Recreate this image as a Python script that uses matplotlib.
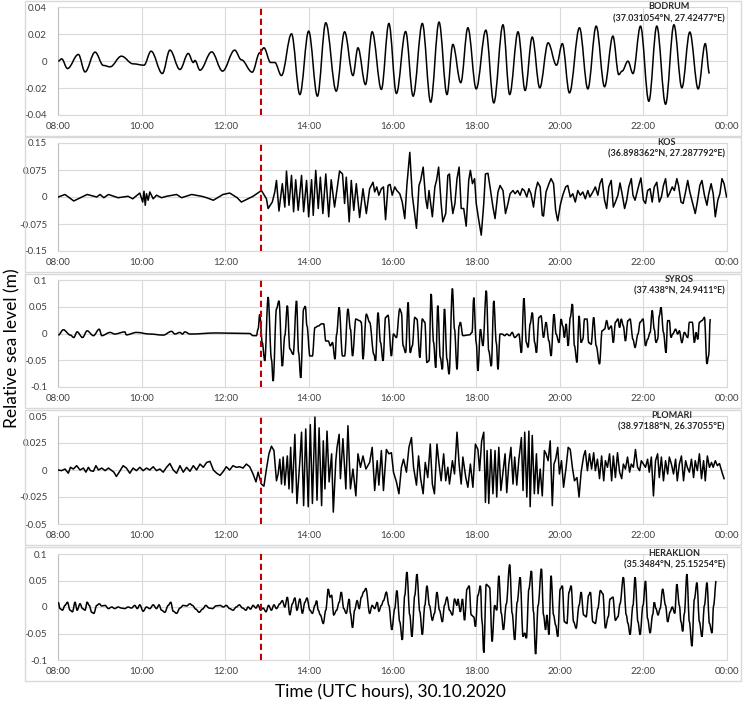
import matplotlib
matplotlib.use("Agg")
import matplotlib.pyplot as plt
from matplotlib.patches import Rectangle, PathPatch
from matplotlib.path import Path

plt.rcParams['font.family'] = ['Lato', 'DejaVu Sans']

# Data: (clock hour, relative sea level in m)
bodrum = [
    (8.00, 0.0), (8.08, 0.0017), (8.22, -0.0055), (8.48, 0.005), (8.64, -0.008), (8.88, 0.0067),
    (9.08, -0.0032), (9.24, -0.0042), (9.51, 0.0037), (9.79, -0.002), (10.05, -0.003), (10.22, 0.0074),
    (10.49, -0.0092), (10.67, 0.0082), (10.91, -0.0062), (11.11, 0.0057), (11.23, -0.001), (11.27, 0.0005),
    (11.39, -0.0067), (11.67, 0.0069), (11.93, -0.0074), (12.22, 0.0082), (12.38, 0.001), (12.64, -0.0082),
    (12.82, 0.0062), (12.92, 0.0099), (13.08, -0.001), (13.18, -0.001), (13.34, -0.0107), (13.58, 0.0203),
    (13.78, -0.0248), (13.99, 0.0223), (14.20, -0.026), (14.40, 0.0285), (14.65, -0.0223), (14.85, 0.0218),
    (15.05, -0.0107), (15.17, 0.0099), (15.35, -0.0174), (15.51, 0.0218), (15.73, -0.021), (15.91, 0.028),
    (16.09, -0.024), (16.31, 0.022), (16.49, -0.026), (16.71, 0.028), (16.91, -0.0305), (17.11, 0.029),
    (17.30, -0.0248), (17.44, 0.0124), (17.63, -0.016), (17.80, 0.0248), (18.00, -0.0206), (18.23, 0.023),
    (18.42, -0.031), (18.64, 0.027), (18.80, -0.0248), (19.00, 0.0218), (19.17, -0.0218), (19.34, 0.0179),
    (19.52, -0.0198), (19.72, 0.0136), (19.92, -0.003), (20.06, 0.013), (20.23, -0.0236), (20.47, 0.0248),
    (20.67, -0.0206), (20.87, 0.026), (21.07, -0.019), (21.27, 0.0186), (21.41, -0.01), (21.49, -0.0074),
    (21.63, 0.0), (21.75, -0.0092), (21.93, 0.026), (22.13, -0.0298), (22.32, 0.026), (22.53, -0.032),
    (22.73, 0.027), (22.92, -0.0198), (23.11, 0.0216), (23.31, -0.0206), (23.48, 0.013), (23.58, -0.0092),
]

kos = [
    (8.00, 0.0), (8.16, 0.007), (8.37, -0.011), (8.60, 0.002), (8.69, 0.007), (8.92, 0.0), (9.00, 0.007),
    (9.09, -0.002), (9.20, 0.007), (9.43, -0.002), (9.67, 0.002), (9.78, -0.005), (9.95, 0.011),
    (10.02, -0.014), (10.05, 0.016), (10.08, -0.023), (10.11, 0.009), (10.15, -0.009), (10.19, 0.014),
    (10.27, -0.005), (10.35, 0.005), (10.47, -0.002), (10.59, 0.002), (10.83, 0.007), (10.95, -0.002),
    (11.19, 0.007), (11.43, 0.002), (11.55, -0.002), (11.71, -0.009), (11.94, 0.007), (12.10, 0.011),
    (12.28, -0.002), (12.38, -0.014), (12.66, 0.002), (12.86, 0.018), (12.98, -0.005), (13.02, -0.032),
    (13.12, -0.014), (13.18, 0.014), (13.22, 0.046), (13.28, -0.039), (13.36, 0.037), (13.42, -0.028),
    (13.46, 0.072), (13.52, -0.023), (13.58, 0.060), (13.63, -0.041), (13.68, 0.048), (13.74, -0.037),
    (13.82, 0.060), (13.87, -0.041), (13.94, 0.046), (13.99, -0.055), (14.06, 0.048), (14.10, -0.051),
    (14.16, 0.074), (14.22, -0.032), (14.27, 0.055), (14.33, -0.046), (14.40, 0.064), (14.47, -0.055),
    (14.53, 0.048), (14.61, -0.028), (14.73, 0.072), (14.80, 0.064), (14.85, -0.018), (14.89, 0.055),
    (14.96, -0.069), (15.01, 0.046), (15.07, -0.037), (15.13, 0.037), (15.21, -0.057), (15.29, 0.023),
    (15.37, -0.046), (15.45, 0.023), (15.53, 0.041), (15.57, 0.014), (15.62, 0.028), (15.67, 0.005),
    (15.73, 0.023), (15.78, 0.028), (15.83, -0.063), (15.89, 0.032), (15.94, 0.035), (15.99, 0.005),
    (16.05, 0.028), (16.10, 0.018), (16.17, 0.009), (16.23, -0.014), (16.29, -0.060), (16.34, 0.032),
    (16.41, 0.124), (16.47, 0.005), (16.51, -0.032), (16.57, -0.087), (16.63, 0.032), (16.67, 0.046),
    (16.73, 0.083), (16.79, -0.005), (16.83, -0.032), (16.87, 0.018), (16.90, -0.009), (16.95, -0.055),
    (17.01, 0.028), (17.05, 0.046), (17.10, 0.083), (17.16, -0.018), (17.20, -0.069), (17.27, -0.046),
    (17.32, 0.060), (17.36, 0.064), (17.40, -0.005), (17.44, -0.046), (17.49, -0.018), (17.54, 0.051),
    (17.59, 0.083), (17.64, -0.032), (17.70, -0.032), (17.76, -0.081), (17.82, 0.046), (17.86, 0.074),
    (17.91, 0.037), (17.96, 0.051), (18.00, -0.018), (18.06, -0.064), (18.12, -0.106), (18.18, -0.018),
    (18.22, 0.064), (18.28, 0.066), (18.33, 0.028), (18.40, -0.028), (18.45, -0.060), (18.52, 0.014),
    (18.57, 0.032), (18.64, 0.018), (18.70, -0.046), (18.76, -0.018), (18.81, 0.009), (18.88, 0.018),
    (18.93, 0.009), (18.99, 0.018), (19.05, 0.005), (19.10, 0.023), (19.15, 0.018), (19.21, 0.0),
    (19.26, 0.023), (19.31, 0.009), (19.37, -0.028), (19.42, 0.018), (19.47, 0.041), (19.53, 0.028),
    (19.58, -0.051), (19.61, -0.053), (19.67, 0.014), (19.74, 0.037), (19.79, 0.051), (19.85, 0.037),
    (19.90, -0.037), (19.95, -0.066), (20.01, -0.023), (20.07, 0.005), (20.14, 0.028), (20.19, 0.032),
    (20.25, 0.0), (20.31, 0.009), (20.37, -0.014), (20.43, 0.018), (20.49, 0.005), (20.55, 0.014),
    (20.61, -0.005), (20.67, 0.018), (20.72, 0.0), (20.79, 0.014), (20.85, 0.028), (20.91, 0.005),
    (20.96, 0.037), (21.01, 0.051), (21.07, -0.009), (21.12, -0.032), (21.17, 0.028), (21.23, 0.046),
    (21.28, -0.028), (21.33, -0.014), (21.39, 0.005), (21.44, 0.039), (21.49, 0.009), (21.55, -0.032),
    (21.60, -0.009), (21.65, 0.028), (21.71, 0.051), (21.75, 0.005), (21.80, -0.009), (21.85, 0.014),
    (21.90, 0.037), (21.94, 0.053), (22.00, -0.009), (22.05, -0.018), (22.10, 0.018), (22.16, 0.023),
    (22.21, -0.014), (22.26, 0.028), (22.32, 0.041), (22.38, -0.014), (22.43, 0.0), (22.48, 0.032),
    (22.53, 0.051), (22.58, 0.0), (22.62, 0.009), (22.69, 0.028), (22.74, 0.018), (22.80, 0.051),
    (22.84, 0.032), (22.90, -0.014), (22.95, -0.018), (23.00, 0.009), (23.06, 0.046), (23.11, 0.014),
    (23.18, -0.018), (23.24, -0.046), (23.29, -0.014), (23.35, 0.032), (23.40, 0.046), (23.46, 0.005),
    (23.52, -0.023), (23.56, 0.007), (23.62, 0.037), (23.67, 0.009), (23.72, -0.055), (23.78, -0.009),
    (23.83, 0.009), (23.88, 0.051), (23.93, 0.037), (23.99, 0.0),
]

syros = [
    (8.00, -0.003), (8.12, 0.007), (8.29, -0.003), (8.37, -0.0075), (8.45, 0.003), (8.58, -0.0075),
    (8.69, 0.005), (8.84, -0.004), (8.98, 0.008), (9.04, -0.004), (9.24, 0.002), (9.35, -0.001),
    (9.59, 0.003), (9.63, -0.0025), (9.87, 0.002), (10.19, -0.001), (10.51, -0.003), (10.71, 0.004),
    (10.79, -0.001), (10.91, 0.002), (10.97, -0.001), (11.03, 0.003), (11.15, -0.001), (11.79, 0.001),
    (12.58, 0.0), (12.66, -0.004), (12.74, -0.004), (12.78, 0.008), (12.82, 0.036), (12.88, -0.017),
    (12.94, -0.051), (13.02, 0.068), (13.10, -0.048), (13.14, -0.089), (13.22, 0.046), (13.28, 0.061),
    (13.36, -0.061), (13.42, -0.004), (13.48, 0.052), (13.54, -0.029), (13.62, -0.039), (13.70, 0.061),
    (13.75, -0.036), (13.80, -0.083), (13.87, 0.046), (13.91, 0.051), (13.95, 0.014), (14.02, -0.042),
    (14.08, -0.042), (14.14, 0.011), (14.22, 0.014), (14.30, 0.018), (14.35, 0.018), (14.40, -0.014),
    (14.46, -0.014), (14.51, -0.023), (14.56, -0.017), (14.62, -0.048), (14.66, -0.001), (14.72, 0.049),
    (14.80, -0.042), (14.85, -0.042), (14.93, 0.046), (14.99, 0.008), (15.04, -0.042), (15.12, 0.027),
    (15.21, 0.024), (15.25, 0.021), (15.29, -0.048), (15.37, 0.036), (15.45, 0.021), (15.55, -0.039),
    (15.59, -0.051), (15.65, 0.039), (15.71, -0.017), (15.77, -0.051), (15.83, 0.030), (15.89, 0.034),
    (15.97, -0.042), (16.02, -0.001), (16.09, -0.0075), (16.17, 0.046), (16.21, 0.039), (16.25, -0.023),
    (16.31, -0.036), (16.37, 0.058), (16.42, -0.036), (16.47, -0.023), (16.53, 0.030), (16.58, 0.027),
    (16.65, -0.045), (16.71, 0.027), (16.77, 0.021), (16.82, -0.054), (16.87, -0.051), (16.92, 0.074),
    (16.98, -0.017), (17.03, -0.064), (17.08, 0.052), (17.14, -0.045), (17.19, -0.067), (17.24, 0.046),
    (17.30, -0.048), (17.35, -0.076), (17.43, 0.084), (17.48, 0.008), (17.54, -0.067), (17.59, 0.014),
    (17.62, 0.021), (17.68, -0.004), (17.84, -0.0025), (17.90, 0.002), (17.94, 0.067), (18.00, -0.017),
    (18.04, -0.070), (18.10, 0.008), (18.16, -0.023), (18.24, 0.080), (18.30, -0.0325), (18.36, -0.061),
    (18.42, 0.061), (18.48, -0.017), (18.52, -0.067), (18.57, -0.001), (18.62, -0.001), (18.68, -0.004),
    (18.73, -0.001), (18.80, -0.004), (18.86, 0.002), (18.92, -0.0075), (19.02, -0.001), (19.08, -0.036),
    (19.14, 0.066), (19.20, -0.017), (19.24, -0.026), (19.29, 0.018), (19.34, 0.039), (19.40, -0.017),
    (19.44, -0.036), (19.50, 0.030), (19.55, 0.033), (19.61, -0.0075), (19.67, 0.021), (19.74, -0.014),
    (19.79, -0.042), (19.86, 0.036), (19.91, -0.001), (19.98, -0.017), (20.03, 0.027), (20.07, 0.014),
    (20.11, -0.0075), (20.15, 0.018), (20.20, -0.023), (20.25, 0.030), (20.30, 0.055), (20.35, -0.023),
    (20.41, -0.054), (20.46, 0.033), (20.51, -0.017), (20.55, -0.011), (20.59, 0.027), (20.65, 0.027),
    (20.69, -0.017), (20.75, -0.020), (20.81, 0.030), (20.87, -0.023), (20.95, -0.057), (21.01, 0.005),
    (21.07, 0.008), (21.12, 0.024), (21.17, 0.008), (21.23, 0.014), (21.28, -0.017), (21.33, 0.021),
    (21.39, 0.027), (21.43, 0.011), (21.47, 0.027), (21.52, 0.014), (21.57, -0.014), (21.63, 0.024),
    (21.68, 0.027), (21.75, -0.011), (21.80, -0.026), (21.87, -0.001), (21.92, 0.021), (21.99, 0.027),
    (22.05, -0.023), (22.10, -0.011), (22.16, 0.002), (22.21, 0.043), (22.26, 0.008), (22.30, -0.017),
    (22.34, -0.011), (22.38, 0.033), (22.42, 0.049), (22.48, 0.002), (22.54, -0.036), (22.58, 0.024),
    (22.62, 0.024), (22.66, -0.0075), (22.70, -0.001), (22.77, 0.008), (22.82, -0.001), (22.86, 0.005),
    (22.92, -0.017), (22.98, 0.002), (23.06, -0.0075), (23.10, 0.021), (23.17, 0.021), (23.22, -0.017),
    (23.26, 0.002), (23.30, -0.011), (23.34, 0.021), (23.40, 0.024), (23.46, 0.030), (23.52, -0.057),
    (23.56, -0.042), (23.60, 0.027),
]

plomari = [
    (8.00, 0.0), (8.08, -0.0006), (8.16, 0.0009), (8.24, -0.003), (8.29, 0.0025), (8.36, 0.0009),
    (8.44, 0.004), (8.52, 0.0), (8.60, 0.0018), (8.66, -0.002), (8.72, 0.0025), (8.77, -0.0006),
    (8.84, -0.0012), (8.90, 0.004), (8.96, 0.0), (9.04, 0.0018), (9.12, -0.0006), (9.20, 0.0018),
    (9.28, -0.0006), (9.33, -0.002), (9.39, -0.006), (9.47, -0.0012), (9.55, 0.004), (9.63, 0.0018),
    (9.71, -0.003), (9.79, 0.0018), (9.87, -0.0006), (9.95, 0.0025), (10.03, -0.0006), (10.11, 0.0018),
    (10.19, 0.0), (10.27, 0.003), (10.35, -0.0006), (10.43, 0.0009), (10.51, -0.002), (10.59, 0.0025),
    (10.67, 0.006), (10.75, 0.0), (10.83, -0.003), (10.91, 0.004), (10.99, -0.002), (11.07, 0.0025),
    (11.15, -0.0012), (11.23, 0.004), (11.31, 0.0), (11.39, 0.0055), (11.47, 0.0025), (11.55, 0.007),
    (11.63, 0.008), (11.71, 0.0), (11.79, -0.003), (11.87, -0.005), (11.95, -0.0012), (12.02, 0.003),
    (12.10, 0.0), (12.18, 0.004), (12.26, 0.0025), (12.34, 0.003), (12.42, 0.0018), (12.50, 0.0055),
    (12.58, 0.003), (12.66, -0.0037), (12.73, -0.011), (12.78, -0.002), (12.86, -0.013), (12.92, -0.015),
    (12.98, 0.0009), (13.04, 0.015), (13.10, 0.022), (13.16, 0.018), (13.22, -0.010), (13.26, -0.0037),
    (13.30, 0.010), (13.34, -0.013), (13.38, 0.012), (13.42, -0.014), (13.48, 0.013), (13.52, -0.0175),
    (13.56, 0.021), (13.60, -0.021), (13.66, 0.033), (13.71, -0.031), (13.78, 0.0086), (13.82, 0.035),
    (13.87, -0.033), (13.92, 0.038), (13.98, -0.034), (14.03, 0.042), (14.08, -0.031), (14.14, 0.049),
    (14.19, -0.028), (14.24, 0.039), (14.30, -0.033), (14.34, 0.027), (14.38, -0.0175), (14.43, 0.036),
    (14.48, -0.011), (14.54, 0.015), (14.58, -0.039), (14.64, 0.0086), (14.67, 0.021), (14.72, 0.033),
    (14.75, -0.008), (14.81, 0.029), (14.88, -0.0175), (14.93, 0.041), (14.99, -0.0175), (15.05, 0.0009),
    (15.12, -0.024), (15.17, 0.015), (15.23, 0.0025), (15.29, 0.013), (15.36, 0.0009),
    (15.45, 0.007), (15.51, 0.021), (15.57, -0.019), (15.63, 0.0086), (15.67, -0.014), (15.73, 0.018),
    (15.78, -0.019), (15.85, 0.019), (15.91, 0.015), (15.97, 0.016), (16.02, -0.002), (16.09, -0.011),
    (16.15, -0.022), (16.21, 0.0025), (16.26, 0.010), (16.33, -0.002), (16.39, 0.021), (16.45, 0.030),
    (16.50, 0.0025), (16.57, -0.014), (16.62, 0.013), (16.67, -0.008), (16.73, -0.022), (16.78, 0.007),
    (16.84, -0.007), (16.90, 0.024), (16.95, -0.013), (17.00, -0.022), (17.06, 0.024), (17.11, 0.0055),
    (17.16, -0.010), (17.22, 0.015), (17.27, -0.010), (17.32, 0.0025), (17.36, -0.013), (17.43, 0.0086),
    (17.48, -0.0037), (17.54, 0.035), (17.59, 0.0055), (17.64, -0.013), (17.68, 0.012), (17.75, -0.007),
    (17.80, -0.016), (17.86, 0.0055), (17.92, -0.016), (17.98, 0.024), (18.04, 0.019), (18.08, -0.0006),
    (18.13, 0.027), (18.18, 0.035), (18.22, -0.030), (18.26, 0.018), (18.30, -0.031), (18.35, 0.019),
    (18.40, -0.022), (18.45, 0.018), (18.49, -0.025), (18.54, 0.021), (18.59, -0.019), (18.64, -0.002),
    (18.69, 0.015), (18.73, -0.021), (18.78, 0.0055), (18.83, 0.021), (18.88, -0.013), (18.92, 0.012),
    (18.97, -0.014), (19.02, 0.010), (19.08, 0.030), (19.12, -0.019), (19.16, 0.035), (19.21, -0.025),
    (19.26, 0.036), (19.29, -0.034), (19.34, 0.032), (19.39, -0.022), (19.44, 0.015), (19.48, -0.022),
    (19.53, 0.0009), (19.58, -0.024), (19.63, 0.018), (19.67, 0.015), (19.72, 0.0086), (19.77, 0.027),
    (19.82, -0.033), (19.86, 0.0055), (19.90, 0.010), (19.95, 0.021), (19.99, -0.0037), (20.04, 0.0086),
    (20.09, -0.016), (20.15, 0.0025), (20.20, 0.021), (20.25, 0.019), (20.30, 0.0025), (20.35, -0.010),
    (20.41, -0.007), (20.46, -0.025), (20.51, -0.002), (20.57, 0.013), (20.61, 0.018), (20.66, -0.0006),
    (20.71, 0.015), (20.76, 0.0009), (20.81, 0.016), (20.85, -0.0006), (20.90, 0.010), (20.95, -0.008),
    (21.00, 0.013), (21.05, -0.010), (21.09, 0.0086), (21.14, 0.0025), (21.19, 0.015), (21.24, -0.010),
    (21.28, 0.013), (21.33, -0.007), (21.38, 0.016), (21.43, -0.002), (21.48, -0.008), (21.52, 0.0055),
    (21.57, 0.0009), (21.62, 0.012), (21.67, -0.002), (21.71, 0.0055), (21.76, 0.0025), (21.81, 0.019),
    (21.86, 0.0025), (21.91, -0.0006), (21.95, 0.0086), (22.00, 0.0055), (22.05, 0.0025), (22.10, 0.010),
    (22.14, -0.002), (22.19, 0.012), (22.24, -0.024), (22.29, 0.0086), (22.34, 0.015), (22.38, -0.007),
    (22.43, 0.012), (22.48, -0.010), (22.53, 0.0086), (22.58, -0.0037), (22.62, 0.012), (22.67, 0.0055),
    (22.72, -0.0037), (22.77, 0.010), (22.81, -0.010), (22.86, 0.0055), (22.91, 0.013), (22.96, -0.010),
    (23.01, 0.0086), (23.05, 0.0025), (23.10, -0.002), (23.15, 0.010), (23.20, -0.007), (23.24, 0.0086),
    (23.29, -0.0006), (23.34, 0.015), (23.39, -0.008), (23.44, 0.0086), (23.48, -0.010), (23.53, 0.013),
    (23.58, 0.0025), (23.63, 0.007), (23.67, 0.0025), (23.72, 0.0086), (23.77, 0.004), (23.82, 0.006),
    (23.88, -0.002), (23.93, -0.008),
]

heraklion = [
    (8.00, 0.009), (8.04, -0.003), (8.10, -0.006), (8.16, 0.003), (8.22, 0.009), (8.28, -0.006),
    (8.34, -0.009), (8.40, 0.009), (8.45, -0.006), (8.52, 0.006), (8.58, -0.003), (8.64, -0.006),
    (8.69, 0.009), (8.74, 0.003), (8.80, -0.010), (8.85, -0.012), (8.92, 0.003), (8.98, 0.006),
    (9.04, 0.002), (9.12, 0.003), (9.20, -0.003), (9.28, 0.0), (9.35, -0.003), (9.43, 0.0),
    (9.51, -0.002), (9.59, -0.003), (9.67, 0.0), (9.75, -0.002), (9.83, 0.003), (9.89, -0.003),
    (9.95, 0.004), (10.03, -0.008), (10.11, 0.0), (10.19, -0.003), (10.27, 0.004), (10.35, -0.003),
    (10.41, 0.004), (10.47, -0.006), (10.55, -0.010), (10.63, 0.003), (10.69, 0.009), (10.75, -0.008),
    (10.83, -0.012), (10.91, -0.002), (10.99, 0.003), (11.07, 0.002), (11.15, 0.006), (11.21, 0.003),
    (11.29, -0.004), (11.37, -0.010), (11.45, -0.004), (11.53, 0.003), (11.61, -0.002), (11.69, -0.003),
    (11.77, 0.002), (11.87, 0.003), (11.95, 0.0), (12.02, 0.003), (12.10, -0.003), (12.18, -0.006),
    (12.26, 0.0), (12.33, 0.004), (12.41, -0.002), (12.49, -0.006), (12.54, 0.0), (12.60, -0.004),
    (12.66, 0.003), (12.73, -0.002), (12.78, 0.004), (12.84, -0.006), (12.90, -0.002), (12.97, -0.009),
    (13.03, 0.003), (13.10, -0.006), (13.16, 0.004), (13.22, -0.003), (13.30, 0.006), (13.36, 0.012),
    (13.42, 0.0), (13.48, 0.0185), (13.54, -0.015), (13.60, 0.006), (13.66, 0.017), (13.71, -0.006),
    (13.78, 0.015), (13.84, -0.012), (13.90, 0.009), (13.95, 0.017), (14.02, -0.006), (14.08, -0.012),
    (14.14, 0.003), (14.18, 0.012), (14.22, -0.006), (14.27, -0.015), (14.34, -0.031), (14.40, -0.006),
    (14.46, 0.034), (14.50, 0.0185), (14.54, 0.022), (14.59, -0.015), (14.66, -0.006), (14.72, 0.009),
    (14.77, 0.028), (14.83, -0.003), (14.89, -0.012), (14.96, 0.015), (14.99, -0.012), (15.04, -0.039),
    (15.09, -0.006), (15.15, 0.012), (15.20, -0.003), (15.25, 0.0185), (15.31, 0.029), (15.36, 0.035),
    (15.45, -0.012), (15.51, 0.003), (15.57, -0.003), (15.63, 0.009), (15.67, -0.008), (15.73, 0.003),
    (15.78, 0.012), (15.85, 0.028), (15.91, 0.003), (15.98, -0.043), (16.05, -0.003), (16.10, 0.031),
    (16.17, -0.028), (16.23, -0.062), (16.29, 0.022), (16.34, 0.066), (16.41, -0.015), (16.46, -0.056),
    (16.53, 0.022), (16.58, 0.062), (16.65, -0.009), (16.71, -0.052), (16.77, 0.003), (16.82, 0.040),
    (16.88, 0.003), (16.95, -0.025), (17.00, -0.012), (17.06, 0.028), (17.12, -0.006), (17.19, -0.028),
    (17.24, 0.003), (17.30, 0.0185), (17.36, -0.006), (17.43, -0.015), (17.48, 0.015), (17.54, 0.003),
    (17.56, 0.015), (17.62, -0.009), (17.67, 0.015), (17.72, -0.025), (17.78, 0.034), (17.83, 0.040),
    (17.88, -0.015), (17.94, -0.0185), (17.98, -0.037), (18.04, 0.022), (18.10, 0.040), (18.14, -0.028),
    (18.18, -0.086), (18.24, 0.043), (18.28, 0.040), (18.32, 0.037), (18.38, -0.065), (18.44, 0.003),
    (18.49, -0.006), (18.54, 0.059), (18.60, -0.012), (18.65, -0.043), (18.72, 0.006), (18.80, 0.080),
    (18.86, -0.012), (18.92, -0.062), (18.98, 0.009), (19.05, 0.056), (19.12, -0.056), (19.16, -0.049),
    (19.20, -0.059), (19.26, 0.034), (19.32, 0.068), (19.37, -0.009), (19.42, -0.089), (19.48, 0.003),
    (19.56, 0.072), (19.61, -0.015), (19.66, -0.043), (19.69, -0.015), (19.74, -0.052), (19.79, 0.059),
    (19.85, -0.015), (19.90, -0.034), (19.95, -0.056), (20.01, 0.034), (20.06, 0.040), (20.11, -0.028),
    (20.17, -0.031), (20.22, 0.028), (20.27, 0.040), (20.33, -0.028), (20.39, -0.040), (20.46, 0.003),
    (20.51, 0.028), (20.57, -0.015), (20.63, -0.0185), (20.69, 0.022), (20.73, 0.028), (20.79, -0.028),
    (20.85, -0.031), (20.91, -0.003), (20.97, 0.031), (21.03, 0.025), (21.09, -0.040), (21.16, -0.0185),
    (21.20, 0.015), (21.27, 0.0185), (21.33, -0.025), (21.39, -0.0185), (21.44, 0.006), (21.52, 0.056),
    (21.59, -0.015), (21.63, -0.031), (21.68, -0.052), (21.75, 0.003), (21.80, 0.056), (21.87, -0.028),
    (21.92, -0.052), (21.99, 0.003), (22.05, 0.049), (22.10, -0.022), (22.16, -0.049), (22.22, -0.015),
    (22.26, 0.009), (22.30, -0.003), (22.35, -0.015), (22.40, -0.003), (22.46, 0.034), (22.53, 0.003),
    (22.58, -0.028), (22.64, -0.009), (22.69, 0.0), (22.75, -0.012), (22.80, 0.043), (22.86, 0.003),
    (22.90, -0.028), (22.94, -0.046), (22.98, -0.012), (23.04, 0.062), (23.10, -0.028), (23.16, -0.074),
    (23.22, 0.015), (23.28, 0.046), (23.34, -0.028), (23.40, -0.056), (23.46, 0.003), (23.52, 0.046),
    (23.58, -0.031), (23.64, -0.049), (23.68, 0.003), (23.74, 0.049),
]

series = [bodrum, kos, syros, plomari, heraklion]
smooth = [True, False, True, False, True]   # smoothed line like the spreadsheet style
names = ["BODRUM", "KOS", "SYROS", "PLOMARI", "HERAKLION"]
coords = ["(37.031054°N, 27.42477°E)", "(36.898362°N, 27.287792°E)", "(37.438°N, 24.9411°E)",
          "(38.97188°N, 26.37055°E)", "(35.3484°N, 25.15254°E)"]
yticks = [
    [-0.04, -0.02, 0, 0.02, 0.04],
    [-0.15, -0.075, 0, 0.075, 0.15],
    [-0.1, -0.05, 0, 0.05, 0.1],
    [-0.05, -0.025, 0, 0.025, 0.05],
    [-0.1, -0.05, 0, 0.05, 0.1],
]
xticks = [8, 10, 12, 14, 16, 18, 20, 22, 24]
xlabels = ["08:00", "10:00", "12:00", "14:00", "16:00", "18:00", "20:00", "22:00", "00:00"]
event_time = 12.85


def smooth_path(pts, k=0.36):
    # cubic Bezier segments through the read points, flat tangents at each point
    verts = [pts[0]]
    codes = [Path.MOVETO]
    for (t0, v0), (t1, v1) in zip(pts[:-1], pts[1:]):
        dt = t1 - t0
        verts += [(t0 + k * dt, v0), (t1 - k * dt, v1), (t1, v1)]
        codes += [Path.CURVE4] * 3
    return Path(verts, codes)


# layout in pixels (745 x 705)
W, H = 745, 705
ax_left, ax_right = 58.3, 727
tops = [7.3, 143, 280, 416, 554]
bots = [115, 251, 387, 524, 660]
frame_tops = [1, 137, 274, 410, 547]
frame_bots = [136, 272, 408, 545, 681]

fig = plt.figure(figsize=(W / 100, H / 100), dpi=100)

for i in range(5):
    ax = fig.add_axes([ax_left / W, 1 - bots[i] / H, (ax_right - ax_left) / W, (bots[i] - tops[i]) / H])
    if smooth[i]:
        ax.add_patch(PathPatch(smooth_path(series[i]), fill=False, ec='black', lw=1.1, zorder=3))
    else:
        t = [p[0] for p in series[i]]
        v = [p[1] for p in series[i]]
        ax.plot(t, v, color='black', lw=1.1, zorder=3)
    ax.axvline(event_time, color='#c00000', ls=(0, (3, 1.8)), lw=1.5, zorder=4)
    ax.set_xlim(8, 24)
    ax.set_ylim(yticks[i][0], yticks[i][-1])
    ax.set_xticks(xticks)
    ax.set_xticklabels(xlabels)
    ax.set_yticks(yticks[i])
    ax.set_yticklabels([('%g' % y) for y in yticks[i]])
    ax.grid(color='#d9d9d9', lw=0.8)
    ax.set_axisbelow(True)
    for s in ax.spines.values():
        s.set_color('#d9d9d9')
        s.set_linewidth(0.8)
    ax.spines['left'].set_color('#bfbfbf')
    ax.tick_params(length=0, labelsize=7, colors='#404040')
    ax.tick_params(axis='y', pad=8)
    ax.tick_params(axis='x', pad=5)
    ax.text(0.997, 1.05, names[i] + "\n" + coords[i], transform=ax.transAxes, ha='right', va='top',
            multialignment='center', linespacing=1.45, fontsize=6.5, fontweight='bold',
            color='#262626', zorder=5)

    fig.add_artist(Rectangle((25 / W, 1 - frame_bots[i] / H), (741 - 25) / W,
                             (frame_bots[i] - frame_tops[i]) / H, transform=fig.transFigure,
                             fill=False, ec='#d9d9d9', lw=1))

fig.text(12 / W, 1 - 348 / H, "Relative sea level (m)", rotation=90, ha='center', va='center', fontsize=12.5)
fig.text(390 / W, 1 - 692 / H, "Time (UTC hours), 30.10.2020", ha='center', va='center', fontsize=12.5)

fig.savefig("out.png", dpi=100)
